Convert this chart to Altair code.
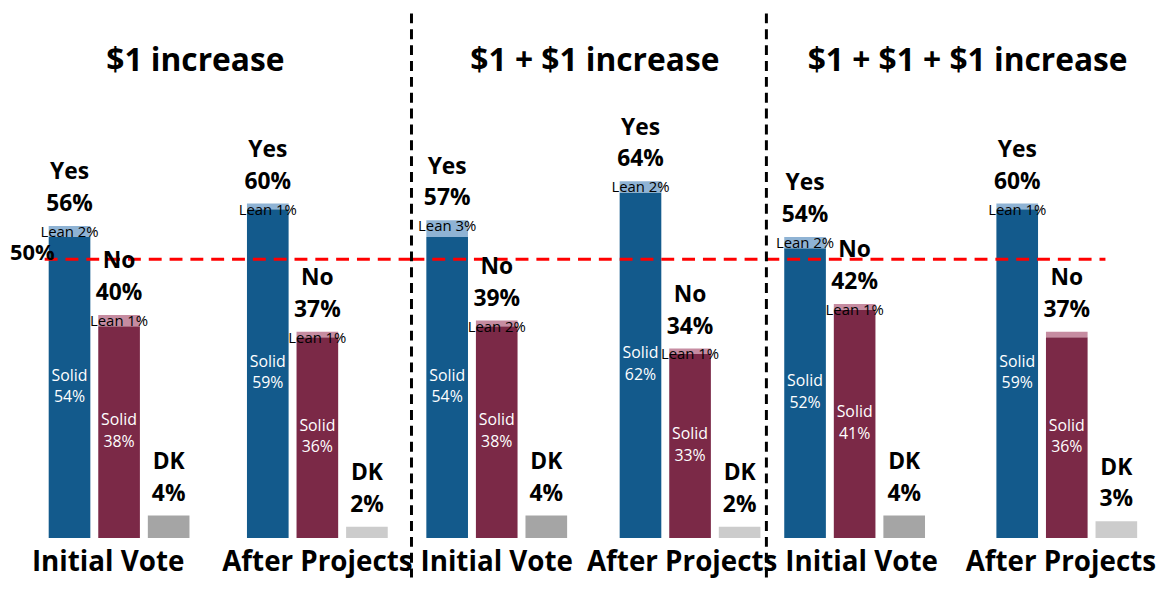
import altair as alt
import pandas as pd

# ---------------- data ----------------
panels = ["$1 increase", "$1 + $1 increase", "$1 + $1 + $1 increase"]
groups = ["Initial Vote", "After Projects"]
responses = ["Yes", "No", "DK"]

# order: panel1 initial, panel1 after, panel2 initial, panel2 after, panel3 initial, panel3 after
yes_total = [56, 60, 57, 64, 54, 60]
yes_solid = [54, 59, 54, 62, 52, 59]
yes_lean = [2, 1, 3, 2, 2, 1]
no_total = [40, 37, 39, 34, 42, 37]
no_solid = [38, 36, 38, 33, 41, 36]
no_lean = [1, 1, 2, 1, 1, None]
dk_total = [4, 2, 4, 2, 4, 3]
reference_line = [50]

parts = ["Yes Solid", "Yes Lean", "No Solid", "No Lean", "DK Initial", "DK After"]
part_colors = ["#135a8c", "#8fb3d4", "#7b2947", "#c68ca1", "#a5a5a5", "#cccccc"]

bar_rows, top_rows, lean_rows, solid_rows = [], [], [], []
for i in range(6):
    p = panels[i // 2]
    g = groups[i % 2]
    bar_rows += [
        dict(panel=p, group=g, resp="Yes", part="Yes Solid", base=0, top=yes_solid[i]),
        dict(panel=p, group=g, resp="Yes", part="Yes Lean", base=yes_solid[i], top=yes_total[i]),
        dict(panel=p, group=g, resp="No", part="No Solid", base=0, top=no_solid[i]),
        dict(panel=p, group=g, resp="No", part="No Lean", base=no_solid[i], top=no_total[i]),
        dict(panel=p, group=g, resp="DK", part="DK Initial" if i % 2 == 0 else "DK After",
             base=0, top=dk_total[i]),
    ]
    for r, v in (("Yes", yes_total[i]), ("No", no_total[i]), ("DK", dk_total[i])):
        top_rows.append(dict(panel=p, group=g, resp=r, val=v, name=r, pct=f"{v}%"))
    lean_rows.append(dict(panel=p, group=g, resp="Yes", val=yes_total[i], label=f"Lean {yes_lean[i]}%"))
    if no_lean[i] is not None:
        lean_rows.append(dict(panel=p, group=g, resp="No", val=no_total[i], label=f"Lean {no_lean[i]}%"))
    solid_rows += [
        dict(panel=p, group=g, resp="Yes", solid=yes_solid[i], label=f"Solid\n{yes_solid[i]}%"),
        dict(panel=p, group=g, resp="No", solid=no_solid[i], label=f"Solid\n{no_solid[i]}%"),
    ]

bars_df = pd.DataFrame(bar_rows)
top_df = pd.DataFrame(top_rows)
lean_df = pd.DataFrame(lean_rows)
solid_df = pd.DataFrame(solid_rows)
ref_df = pd.DataFrame({"ref": reference_line})

# ---------------- style ----------------
FONT = "Open Sans"
H = 532
PX_PER_PCT = 5.62
YMAX = H / PX_PER_PCT


def make_panel(k, W, pi, po, align, title_x, red_x0, red_x1, sep, label50, off_initial, off_after):
    p = panels[k]
    x = alt.X(
        "group:N", sort=groups,
        scale=alt.Scale(domain=groups, paddingInner=pi, paddingOuter=po, align=align),
        axis=alt.Axis(title=None, domain=False, ticks=False, labelAngle=0,
                      labelFontSize=28, labelFontWeight="bold", labelFont=FONT,
                      labelColor="black", labelPadding=11, labelLimit=400,
                      labelOffset=alt.expr(
                          f"datum.value == 'Initial Vote' ? {off_initial} : {off_after}")),
    )
    xo = alt.XOffset("resp:N", sort=responses,
                     scale=alt.Scale(domain=responses, paddingInner=0.16, paddingOuter=0.08))
    yscale = alt.Scale(domain=[0, YMAX], nice=False, zero=True)

    bars = alt.Chart(bars_df).transform_filter(alt.datum.panel == p).mark_bar().encode(
        x=x, xOffset=xo,
        y=alt.Y("base:Q", scale=yscale, axis=None),
        y2="top:Q",
        color=alt.Color("part:N", scale=alt.Scale(domain=parts, range=part_colors), legend=None),
    )
    top_base = alt.Chart(top_df).transform_filter(alt.datum.panel == p)
    top_pct = top_base.mark_text(
        font=FONT, fontSize=23, fontWeight="bold", color="black", baseline="bottom", dy=-10,
    ).encode(x=x, xOffset=xo, y=alt.Y("val:Q", scale=yscale, axis=None), text="pct:N")
    top_name = top_base.mark_text(
        font=FONT, fontSize=23, fontWeight="bold", color="black", baseline="bottom", dy=-42,
    ).encode(x=x, xOffset=xo, y=alt.Y("val:Q", scale=yscale, axis=None), text="name:N")
    leans = alt.Chart(lean_df).transform_filter(alt.datum.panel == p).mark_text(
        font=FONT, fontSize=15, color="black", baseline="top", dy=-1,
    ).encode(x=x, xOffset=xo, y=alt.Y("val:Q", scale=yscale, axis=None), text="label:N")
    solids = alt.Chart(solid_df).transform_filter(alt.datum.panel == p).transform_calculate(
        mid="datum.solid / 2"
    ).mark_text(
        font=FONT, fontSize=16, color="white", baseline="middle", lineBreak="\n", lineHeight=22, dy=-12,
    ).encode(x=x, xOffset=xo, y=alt.Y("mid:Q", scale=yscale, axis=None), text="label:N")
    red = alt.Chart(ref_df).mark_rule(color="#ff0000", strokeWidth=3, strokeDash=[13, 8]).encode(
        y=alt.Y("ref:Q", scale=yscale, axis=None), x=alt.value(red_x0), x2=alt.value(red_x1)
    )
    title = alt.Chart(pd.DataFrame({"t": [p]})).mark_text(
        font=FONT, fontSize=32, fontWeight="bold", color="black", baseline="alphabetic", align="center"
    ).encode(x=alt.value(title_x), y=alt.value(61), text="t:N")

    layers = [bars, red, top_name, top_pct, leans, solids, title]
    if sep:
        layers.append(
            alt.Chart(pd.DataFrame({"s": [0]})).mark_rule(color="black", strokeWidth=3, strokeDash=[10, 6]).encode(
                x=alt.value(0), y=alt.value(3), y2=alt.value(572)
            )
        )
    if label50:
        layers.append(
            alt.Chart(ref_df).transform_calculate(txt="datum.ref + '%'").mark_text(
                font=FONT, fontSize=22, fontWeight="bold", color="black", align="left",
                baseline="alphabetic", dy=1,
            ).encode(x=alt.value(2), y=alt.Y("ref:Q", scale=yscale, axis=None), text="txt:N")
        )
    return alt.layer(*layers).properties(width=W, height=H)


p1 = make_panel(0, 407, 0.25, 0.1425, 0.65, 189, 37, 407, False, True, -11, 0)
p2 = make_panel(1, 358, 0.2308, 0.0333, 0.846, 185, 0, 358, True, False, 0, -8)
p3 = make_panel(2, 383, 0.2991, 0.0444, 0.737, 203, 0, 342, True, False, 7, -6)

chart = alt.hconcat(p1, p2, p3, spacing=0, bounds="flush").resolve_scale(
    x="independent", xOffset="independent"
).properties(padding=0).configure_view(stroke=None)

chart.save("out.html", embed_options={"renderer": "svg", "actions": False})
